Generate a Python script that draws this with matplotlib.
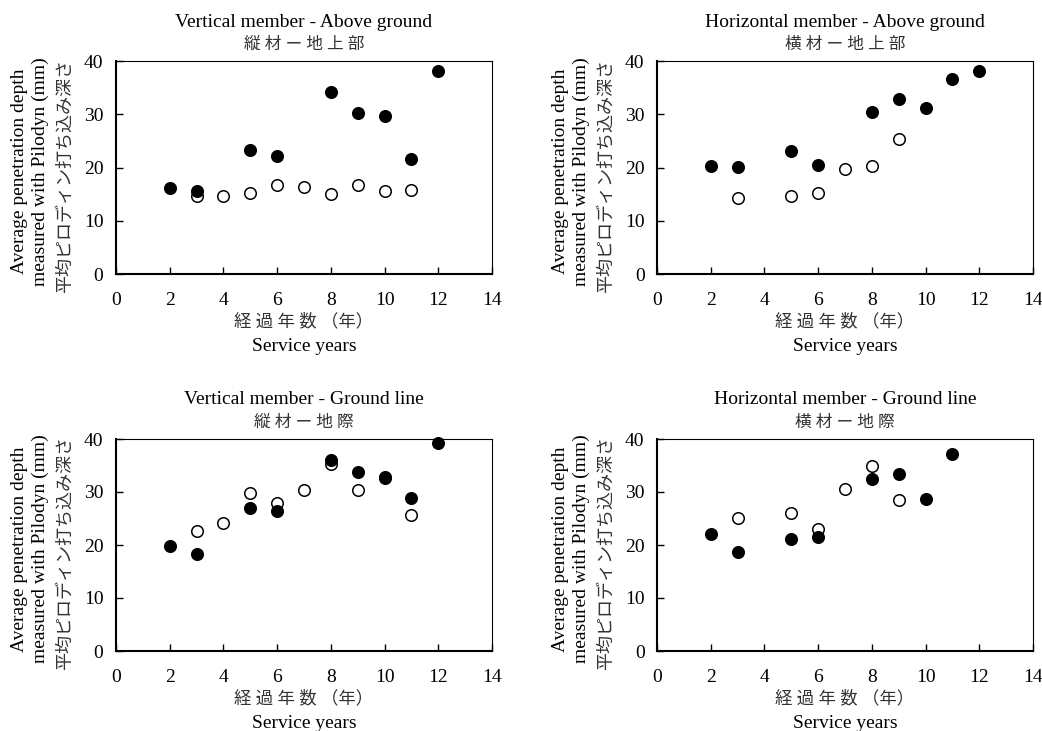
"""
Pilodyn penetration depth vs service years, four panels.
"""
import numpy as np, matplotlib
matplotlib.use('Agg')
import matplotlib.pyplot as plt

FONTS = ['Liberation Serif', 'Noto Sans CJK JP']
plt.rcParams['font.family'] = FONTS
plt.rcParams['font.size'] = 14

# panel titles (english / japanese)
titles_en = ['Vertical member - Above ground', 'Horizontal member - Above ground',
             'Vertical member - Ground line', 'Horizontal member - Ground line']
titles_jp = ['縦 材 ー 地 上 部', '横 材 ー 地 上 部', '縦 材 ー 地 際', '横 材 ー 地 際']

ylabel_en = 'Average penetration depth\nmeasured with Pilodyn (mm)'
ylabel_jp = '平均ピロディン打ち込み深さ'
xlabel_jp = '経 過 年 数 （年）'
xlabel_en = 'Service years'

# filled circles
va_filled_x = [2, 3, 5, 6, 8, 9, 10, 11, 12]
va_filled_y = [16.1, 15.6, 23.3, 22.2, 34.2, 30.3, 29.6, 21.6, 38.1]
# open circles
va_open_x = [3, 4, 5, 6, 7, 8, 9, 10, 11]
va_open_y = [14.6, 14.6, 15.3, 16.8, 16.3, 15.1, 16.8, 15.6, 15.8]

ha_filled_x = [2, 3, 5, 6, 8, 9, 10, 11, 12]
ha_filled_y = [20.3, 20.1, 23.1, 20.4, 30.4, 32.9, 31.2, 36.6, 38.1]
ha_open_x = [3, 5, 6, 7, 8, 9]
ha_open_y = [14.3, 14.6, 15.3, 19.8, 20.3, 25.4]

vg_filled_x = [2, 3, 5, 6, 8, 9, 10, 11, 12]
vg_filled_y = [19.8, 18.3, 26.9, 26.4, 36.0, 33.7, 32.6, 28.9, 39.2]
vg_open_x = [3, 4, 5, 6, 7, 8, 9, 10, 11]
vg_open_y = [22.6, 24.2, 29.9, 27.9, 30.4, 35.2, 30.4, 32.8, 25.6]

hg_filled_x = [2, 3, 5, 6, 8, 9, 10, 11]
hg_filled_y = [22.1, 18.7, 21.1, 21.6, 32.4, 33.4, 28.6, 37.2]
hg_open_x = [3, 5, 6, 7, 8, 9]
hg_open_y = [25.1, 26.1, 23.1, 30.6, 34.9, 28.4]

filled = [(va_filled_x, va_filled_y), (ha_filled_x, ha_filled_y),
          (vg_filled_x, vg_filled_y), (hg_filled_x, hg_filled_y)]
opened = [(va_open_x, va_open_y), (ha_open_x, ha_open_y),
          (vg_open_x, vg_open_y), (hg_open_x, hg_open_y)]

W, H = 1042, 731
PT = 0.72  # points per pixel at dpi 100
fig = plt.figure(figsize=(W/100., H/100.), dpi=100, facecolor='white')

# axes boxes in pixels: left, top, right, bottom
boxes = [(116, 61, 492, 274), (657, 61, 1033, 274),
         (116, 439, 492, 651), (657, 439, 1033, 651)]


def put(ax, s, xf, yf, dx, dy, **kw):
    # text placed at an axes fraction plus a pixel offset
    ax.annotate(s, xy=(xf, yf), xycoords='axes fraction', xytext=(dx*PT, dy*PT),
                textcoords='offset points', ha='center', va='center',
                annotation_clip=False, **kw)


for i in range(4):
    l, t, r, b = boxes[i]
    ax = fig.add_axes([l/W, 1 - b/H, (r-l)/W, (b-t)/H])
    ax.plot(opened[i][0], opened[i][1], 'o', ms=8.3, mfc='white', mec='black',
            mew=1.1, zorder=3, clip_on=False)
    ax.plot(filled[i][0], filled[i][1], 'o', ms=8.3, mfc='black', mec='black',
            mew=1.1, zorder=4, clip_on=False)
    ax.set_xlim(0, 14)
    ax.set_ylim(0, 40)
    ax.set_xticks(np.arange(0, 15, 2))
    ax.set_yticks(np.arange(0, 41, 10))
    ax.tick_params(axis='x', direction='in', length=5, width=1, pad=13, labelsize=14)
    ax.tick_params(axis='y', direction='in', length=5, width=1, pad=9, labelsize=14)
    for s in ['bottom', 'left']:
        ax.spines[s].set_linewidth(1.5)
    for s in ['top', 'right']:
        ax.spines[s].set_linewidth(0.8)

    # titles
    put(ax, titles_en[i], 0.5, 1.0, 0, 39, fontsize=14)
    put(ax, titles_jp[i], 0.5, 1.0, 0, 16, fontsize=12, color='#333333')
    # x labels
    put(ax, xlabel_jp, 0.5, 0.0, 0, -48, fontsize=12.5, color='#333333')
    put(ax, xlabel_en, 0.5, 0.0, 0, -72, fontsize=14)
    # y labels
    put(ax, ylabel_en, 0.0, 0.5, -86, -4, fontsize=14, rotation=90, linespacing=1.32)
    put(ax, ylabel_jp, 0.0, 0.5, -51, -8, fontsize=13, rotation=90, color='#333333')

plt.savefig('out.png', dpi=100, facecolor='white')
